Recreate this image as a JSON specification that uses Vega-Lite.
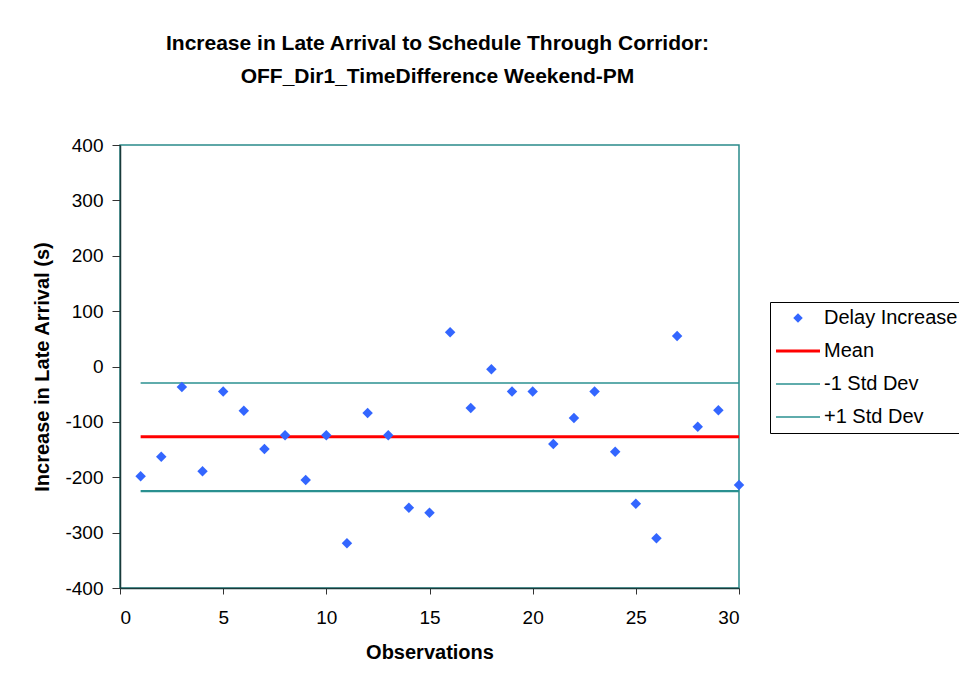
{
  "$schema": "https://vega.github.io/schema/vega-lite/v6.json",
  "width": 619,
  "height": 443,
  "autosize": {"type": "none"},
  "padding": {"left": 120, "top": 145, "right": 220, "bottom": 98},
  "background": "white",
  "title": {
    "text": ["Increase in Late Arrival to Schedule Through Corridor:", "OFF_Dir1_TimeDifference Weekend-PM"],
    "fontSize": 21,
    "font": "Liberation Sans",
    "fontWeight": "bold",
    "lineHeight": 33,
    "anchor": "middle",
    "dx": 8,
    "offset": 49,
    "color": "black"
  },
  "config": {
    "view": {"stroke": "#2a8a8a", "strokeWidth": 1.5},
    "font": "Liberation Sans",
    "axis": {
      "grid": false,
      "labelFont": "Liberation Sans",
      "labelFontSize": 19,
      "labelColor": "black",
      "titleFont": "Liberation Sans",
      "titleFontSize": 20,
      "titleFontWeight": "bold",
      "titleColor": "black",
      "domainColor": "#1a3a3a",
      "domainWidth": 1.5,
      "tickColor": "#333333",
      "tickSize": 6
    }
  },
  "datasets": {
    "obs": [
      {"x": 1, "y": -198}, {"x": 2, "y": -163}, {"x": 3, "y": -37}, {"x": 4, "y": -189}, {"x": 5, "y": -45},
      {"x": 6, "y": -80}, {"x": 7, "y": -149}, {"x": 8, "y": -124}, {"x": 9, "y": -205}, {"x": 10, "y": -124},
      {"x": 11, "y": -319}, {"x": 12, "y": -84}, {"x": 13, "y": -124}, {"x": 14, "y": -255}, {"x": 15, "y": -264},
      {"x": 16, "y": 62}, {"x": 17, "y": -75}, {"x": 18, "y": -5}, {"x": 19, "y": -45}, {"x": 20, "y": -45},
      {"x": 21, "y": -140}, {"x": 22, "y": -93}, {"x": 23, "y": -45}, {"x": 24, "y": -154}, {"x": 25, "y": -248},
      {"x": 26, "y": -310}, {"x": 27, "y": 55}, {"x": 28, "y": -109}, {"x": 29, "y": -79}, {"x": 30, "y": -214}
    ],
    "lines": [
      {"series": "Mean", "x": 1, "y": -127}, {"series": "Mean", "x": 30, "y": -127},
      {"series": "-1 Std Dev", "x": 1, "y": -225}, {"series": "-1 Std Dev", "x": 30, "y": -225},
      {"series": "+1 Std Dev", "x": 1, "y": -30}, {"series": "+1 Std Dev", "x": 30, "y": -30}
    ]
  },
  "layer": [
    {
      "data": {"name": "lines"},
      "mark": {"type": "line", "clip": true},
      "encoding": {
        "x": {"field": "x", "type": "quantitative"},
        "y": {"field": "y", "type": "quantitative"},
        "detail": {"field": "series"},
        "color": {"field": "series", "type": "nominal"},
        "strokeWidth": {
          "field": "series", "type": "nominal",
          "scale": {"domain": ["Mean", "-1 Std Dev", "+1 Std Dev"], "range": [3, 1.5, 1.5]},
          "legend": null
        }
      }
    },
    {
      "data": {"name": "obs"},
      "transform": [{"calculate": "'Delay Increase'", "as": "series"}],
      "mark": {"type": "point", "shape": "diamond", "filled": true, "size": 110, "opacity": 1},
      "encoding": {
        "x": {
          "field": "x", "type": "quantitative", "title": "Observations",
          "scale": {"domain": [0, 30], "nice": false, "zero": false},
          "axis": {"values": [0, 5, 10, 15, 20, 25, 30], "titlePadding": 15, "labelPadding": 14, "tickSize": 6}
        },
        "y": {
          "field": "y", "type": "quantitative", "title": "Increase in Late Arrival (s)",
          "scale": {"domain": [-400, 400], "nice": false},
          "axis": {"values": [-400, -300, -200, -100, 0, 100, 200, 300, 400], "labelExpr": "datum.value + ''", "titlePadding": 12, "labelPadding": 9, "tickSize": 8}
        },
        "color": {
          "field": "series", "type": "nominal",
          "scale": {
            "domain": ["Delay Increase", "Mean", "-1 Std Dev", "+1 Std Dev"],
            "range": ["#3366FF", "#FF0000", "#2a9090", "#2a9090"]
          },
          "legend": {
            "title": null,
            "orient": "none",
            "legendX": 650,
            "legendY": 157,
            "strokeColor": "black",
            "fillColor": "white",
            "padding": 6,
            "labelFont": "Liberation Sans",
            "labelFontSize": 20,
            "labelColor": "black",
            "rowPadding": 13,
            "labelOffset": 16,
            "symbolOffset": 12,
            "symbolType": {"expr": "datum.value === 'Delay Increase' ? 'diamond' : 'stroke'"},
            "symbolSize": {"expr": "datum.value === 'Delay Increase' ? 90 : 1936"},
            "symbolFillColor": {"expr": "datum.value === 'Delay Increase' ? '#3366FF' : 'transparent'"},
            "symbolStrokeColor": {"expr": "datum.value === 'Delay Increase' ? '#3366FF' : (datum.value === 'Mean' ? '#FF0000' : '#2a9090')"},
            "symbolStrokeWidth": {"expr": "datum.value === 'Mean' ? 3 : (datum.value === 'Delay Increase' ? 0 : 1.5)"},
            "symbolOpacity": 1
          }
        }
      }
    }
  ]
}
